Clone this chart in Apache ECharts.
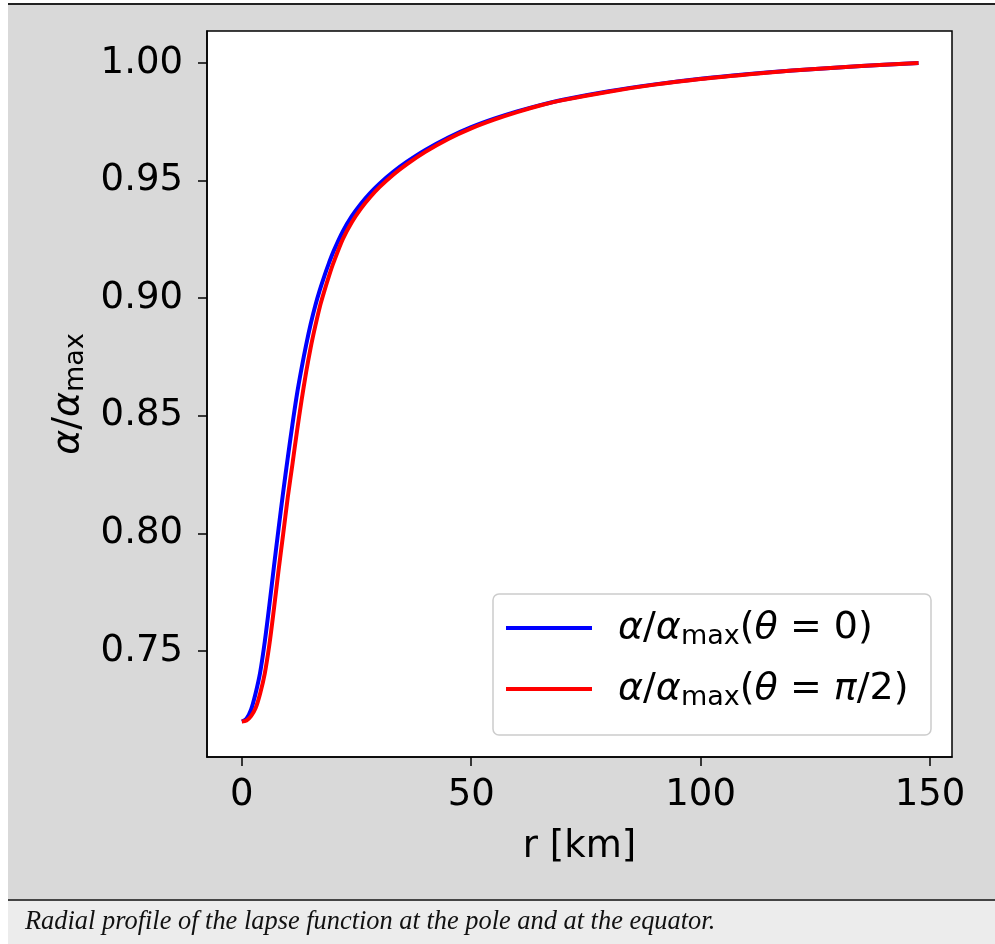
<!DOCTYPE html>
<html><head><meta charset="utf-8">
<script src="https://cdn.jsdelivr.net/npm/echarts@6/dist/echarts.min.js"></script>
<style>html,body{margin:0;padding:0;background:#fff}#c{width:995px;height:944px}</style>
</head><body><div id="c"></div>
<script>
const radius = [0,1,2,3,4,5,6,7,8,9,10,11,12,13,14,15,16,17,18,19,20,22,24,26,28,30,33,36,40,45,50,55,60,65,70,80,90,100,110,120,130,140,147.5];
const lapsePole = [0.7200,0.7212,0.7250,0.7320,0.7410,0.7540,0.7695,0.7860,0.8020,0.8175,0.8320,0.8460,0.8590,0.8700,0.8800,0.8890,0.8968,0.9035,0.9095,0.9150,0.9200,0.9284,0.9350,0.9403,0.9448,0.9487,0.9537,0.9580,0.9630,0.9683,0.9727,0.9763,0.9794,0.9821,0.9844,0.9880,0.9909,0.9933,0.9952,0.9968,0.9981,0.9993,1.0000];
const lapseEquator = [0.7200,0.7204,0.7223,0.7257,0.7320,0.7405,0.7527,0.7680,0.7843,0.7996,0.8152,0.8291,0.8432,0.8564,0.8684,0.8790,0.8881,0.8964,0.9032,0.9095,0.9152,0.9251,0.9324,0.9382,0.9430,0.9472,0.9525,0.9570,0.9622,0.9677,0.9722,0.9759,0.9791,0.9819,0.9842,0.9878,0.9908,0.9932,0.9951,0.9968,0.9981,0.9993,1.0000];
const xTicks = [0,50,100,150];
const yTicks = [0.75,0.80,0.85,0.90,0.95,1.00];
const seriesNames = ['α/αmax(θ = 0)', 'α/αmax(θ = π/2)'];
const legendRichText = {
  'α/αmax(θ = 0)': '{g|}{i|α}{n|/}{i|α}{s|max}{n|(}{i|θ}{n| = 0)}',
  'α/αmax(θ = π/2)': '{g|}{i|α}{n|/}{i|α}{s|max}{n|(}{i|θ}{n| = }{i|π}{n|/2)}'
};
const captionText = 'Radial profile of the lapse function at the pole and at the equator.';

const FONT = 'DejaVu Sans';
const richStyles = {
  g: {width: 21},
  i: {fontFamily: FONT, fontSize: 38, fontStyle: 'italic', lineHeight: 44, color: '#000'},
  n: {fontFamily: FONT, fontSize: 38, lineHeight: 44, color: '#000'},
  s: {fontFamily: FONT, fontSize: 27, lineHeight: 20, verticalAlign: 'bottom', color: '#000'}
};

const chart = echarts.init(document.getElementById('c'), null, {renderer: 'canvas'});
chart.setOption({
  animation: false,
  backgroundColor: 'transparent',
  grid: {left: 207, top: 31, width: 745, height: 726, show: true, backgroundColor: '#ffffff', borderColor: '#000', borderWidth: 1.5},
  xAxis: {
    type: 'value', min: -7.6, max: 154.8,
    axisLine: {show: true, onZero: false, lineStyle: {color: '#000', width: 1.5}},
    axisTick: {show: true, customValues: xTicks, length: 9, lineStyle: {color: '#000', width: 1.5}},
    axisLabel: {customValues: xTicks, fontFamily: FONT, fontSize: 37, color: '#000', margin: 20},
    splitLine: {show: false},
    name: 'r [km]', nameLocation: 'middle', nameGap: 72,
    nameTextStyle: {fontFamily: FONT, fontSize: 37, color: '#000'}
  },
  yAxis: {
    type: 'value', min: 0.7049, max: 1.0136,
    axisLine: {show: true, onZero: false, lineStyle: {color: '#000', width: 1.5}},
    axisTick: {show: true, customValues: yTicks, length: 9, lineStyle: {color: '#000', width: 1.5}},
    axisLabel: {customValues: yTicks, formatter: v => v.toFixed(2), fontFamily: FONT, fontSize: 37, color: '#000', margin: 24},
    splitLine: {show: false},
    name: '{i|α}{n|/}{i|α}{s|max}', nameLocation: 'middle', nameRotate: 90, nameGap: 116,
    nameTextStyle: {rich: {i: richStyles.i, n: richStyles.n, s: richStyles.s}}
  },
  legend: {
    data: seriesNames, orient: 'vertical', left: 506, top: 609,
    itemWidth: 86, itemHeight: 4, itemGap: 20, icon: 'rect', padding: 0,
    formatter: name => legendRichText[name],
    textStyle: {rich: richStyles}
  },
  graphic: [
    {type: 'rect', z: -100, shape: {x: 8, y: 5, width: 987, height: 895}, style: {fill: '#d9d9d9'}},
    {type: 'rect', z: -99, shape: {x: 8, y: 3, width: 987, height: 2}, style: {fill: '#222'}},
    {type: 'rect', z: -99, shape: {x: 8, y: 899, width: 987, height: 2}, style: {fill: '#444'}},
    {type: 'rect', z: -99, shape: {x: 8, y: 901, width: 987, height: 43}, style: {fill: '#ececec'}},
    {type: 'text', z: 10, x: 25, y: 922, style: {text: captionText, font: 'italic 26.4px "Liberation Serif"', fill: '#111', verticalAlign: 'middle'}},
    {type: 'rect', z: 3, shape: {x: 493, y: 594, width: 438, height: 141, r: 6}, style: {fill: 'rgba(255,255,255,0.8)', stroke: '#cccccc', lineWidth: 1.5}}
  ],
  series: [
    {name: seriesNames[0], type: 'line', showSymbol: false, smooth: 0.3,
     data: radius.map((r, i) => [r, lapsePole[i]]), lineStyle: {color: '#0000ff', width: 4}, itemStyle: {color: '#0000ff'}},
    {name: seriesNames[1], type: 'line', showSymbol: false, smooth: 0.3,
     data: radius.map((r, i) => [r, lapseEquator[i]]), lineStyle: {color: '#ff0000', width: 4}, itemStyle: {color: '#ff0000'}}
  ]
});
</script></body></html>
